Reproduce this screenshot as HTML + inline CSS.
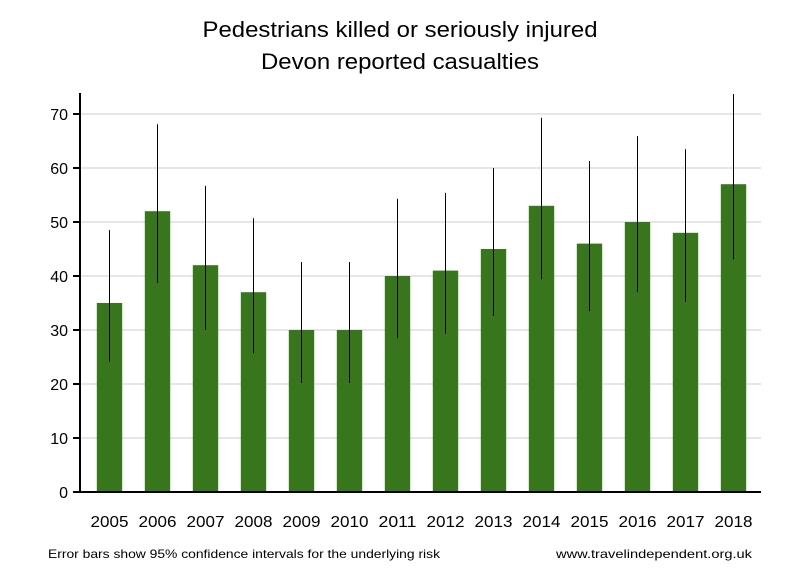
<!DOCTYPE html>
<html><head><meta charset="utf-8"><style>body{margin:0;background:#fff}svg{display:block}</style></head>
<body>
<svg width="800" height="580" xmlns="http://www.w3.org/2000/svg" font-family="Liberation Sans, sans-serif">
<rect width="800" height="580" fill="#fff"/>
<text x="400" y="37" font-size="22" text-anchor="middle" textLength="395" lengthAdjust="spacingAndGlyphs">Pedestrians killed or seriously injured</text>
<text x="400" y="69" font-size="22" text-anchor="middle" textLength="278" lengthAdjust="spacingAndGlyphs">Devon reported casualties</text>
<g stroke="#e6e6e6" stroke-width="2">
<line x1="81" x2="761" y1="438" y2="438"/><line x1="81" x2="761" y1="384" y2="384"/>
<line x1="81" x2="761" y1="330" y2="330"/><line x1="81" x2="761" y1="276" y2="276"/>
<line x1="81" x2="761" y1="222" y2="222"/><line x1="81" x2="761" y1="168" y2="168"/>
<line x1="81" x2="761" y1="114" y2="114"/>
</g>
<g id="bars" fill="#38761d"></g>
<g id="err" stroke="#000" stroke-width="1"></g>
<g stroke="#000" stroke-width="2">
<line x1="80" y1="93" x2="80" y2="493"/><line x1="79" y1="492" x2="761" y2="492"/>
<line x1="73" x2="80" y1="492" y2="492"/><line x1="73" x2="80" y1="438" y2="438"/>
<line x1="73" x2="80" y1="384" y2="384"/><line x1="73" x2="80" y1="330" y2="330"/>
<line x1="73" x2="80" y1="276" y2="276"/><line x1="73" x2="80" y1="222" y2="222"/>
<line x1="73" x2="80" y1="168" y2="168"/><line x1="73" x2="80" y1="114" y2="114"/>
</g>
<g font-size="16" text-anchor="end">
<text x="68" y="498">0</text><text x="68" y="444">10</text><text x="68" y="390">20</text>
<text x="68" y="336">30</text><text x="68" y="282">40</text><text x="68" y="228">50</text>
<text x="68" y="174">60</text><text x="68" y="120">70</text>
</g>
<g id="xl" font-size="16" text-anchor="middle"></g>
<text x="48" y="558" font-size="12" textLength="392" lengthAdjust="spacingAndGlyphs">Error bars show 95% confidence intervals for the underlying risk</text>
<text x="752" y="558" font-size="12" text-anchor="end" textLength="196" lengthAdjust="spacingAndGlyphs">www.travelindependent.org.uk</text>
<script>
var v=[35,52,42,37,30,30,40,41,45,53,46,50,48,57];
var hi=[48.5,68.1,56.7,50.7,42.6,42.6,54.3,55.4,60,69.3,61.3,65.9,63.5,73.7];
var lo=[24.1,38.7,30,25.7,20.2,20.2,28.5,29.3,32.6,39.4,33.5,37,35.2,43.1];
var ns="http://www.w3.org/2000/svg",b=document.getElementById("bars"),e=document.getElementById("err"),xl=document.getElementById("xl");
function Y(d){return 492-d*5.4;}
for(var i=0;i<14;i++){var c=109.5+48*i;
var r=document.createElementNS(ns,"rect");r.setAttribute("x",c-12.7);r.setAttribute("width",25.4);r.setAttribute("y",Y(v[i]));r.setAttribute("height",v[i]*5.4);b.appendChild(r);
var l=document.createElementNS(ns,"line");l.setAttribute("x1",c);l.setAttribute("x2",c);l.setAttribute("y1",Y(hi[i]));l.setAttribute("y2",Y(lo[i]));e.appendChild(l);
var t=document.createElementNS(ns,"text");t.setAttribute("x",c);t.setAttribute("y",527);t.setAttribute("textLength",38);t.setAttribute("lengthAdjust","spacingAndGlyphs");t.textContent=2005+i;xl.appendChild(t);}
</script>
</svg>
</body></html>
